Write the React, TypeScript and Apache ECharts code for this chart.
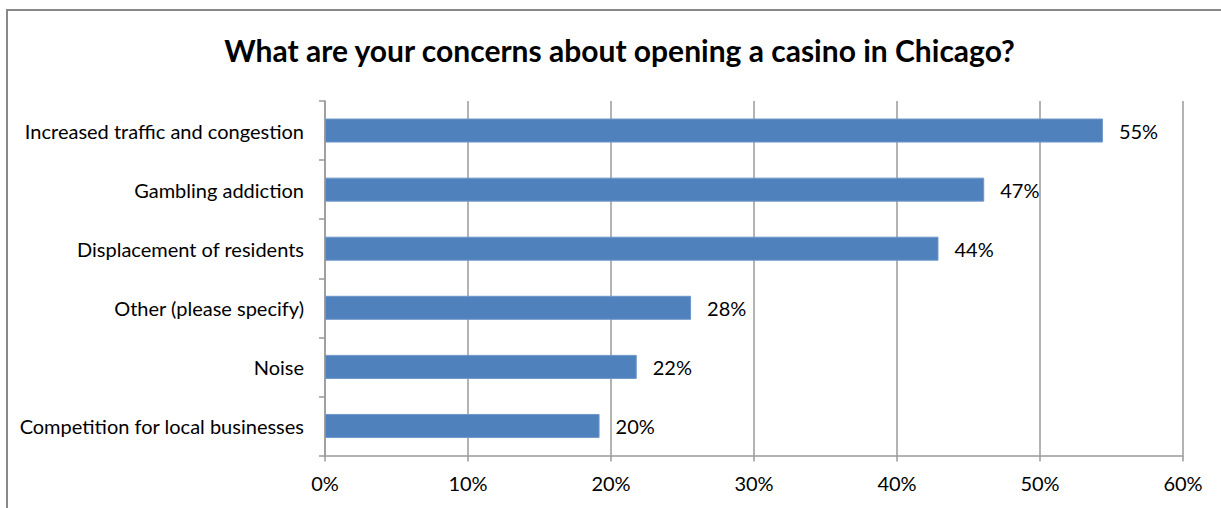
import React, { useEffect, useRef } from "react";
import * as echarts from "echarts";

const titleText = "What are your concerns about opening a casino in Chicago?";
const categories = [
  "Increased traffic and congestion",
  "Gambling addiction",
  "Displacement of residents",
  "Other (please specify)",
  "Noise",
  "Competition for local businesses",
];
const values = [54.4, 46.1, 42.9, 25.6, 21.8, 19.2];
const valueLabels = ["55%", "47%", "44%", "28%", "22%", "20%"];
const xMin = 0;
const xMax = 60;
const xInterval = 10;

const FONT = "Lato";

export default function App() {
  const ref = useRef<HTMLDivElement>(null);
  useEffect(() => {
    if (!ref.current) return;
    const chart = echarts.init(ref.current, undefined, { renderer: "svg" });
    chart.setOption({
      animation: false,
      backgroundColor: "#ffffff",
      textStyle: { fontFamily: FONT },
      graphic: [
        {
          type: "rect",
          shape: { x: 7, y: 10, width: 1400, height: 700 },
          style: { fill: "none", stroke: "#888888", lineWidth: 2 },
          silent: true,
          z: 100,
        },
        {
          type: "text",
          x: 619.5,
          y: 50,
          style: {
            text: titleText,
            font: `bold 30px ${FONT}`,
            fill: "#000000",
            align: "center",
            verticalAlign: "middle",
          },
        },
      ],
      grid: { left: 325, right: 38, top: 101, bottom: 52.5, containLabel: false },
      xAxis: {
        type: "value",
        min: xMin,
        max: xMax,
        interval: xInterval,
        axisLine: { show: true, lineStyle: { color: "#9a9a9a", width: 1.5 } },
        axisTick: { show: true, length: 6, lineStyle: { color: "#9a9a9a", width: 1.5 } },
        splitLine: { show: true, lineStyle: { color: "#9a9a9a", width: 1.5 } },
        axisLabel: {
          formatter: "{value}%",
          color: "#000000",
          fontSize: 20,
          fontFamily: FONT,
          margin: 17,
        },
      },
      yAxis: {
        type: "category",
        data: categories,
        inverse: true,
        axisLine: { show: true, lineStyle: { color: "#9a9a9a", width: 1.5 } },
        axisTick: { show: true, length: 6, lineStyle: { color: "#9a9a9a", width: 1.5 } },
        axisLabel: {
          color: "#000000",
          fontSize: 20,
          fontFamily: FONT,
          margin: 21,
        },
      },
      series: [
        {
          type: "bar",
          data: values.map((v, i) => ({ value: v, label: { formatter: valueLabels[i] } })),
          barWidth: 24,
          itemStyle: { color: "#4F81BD", borderColor: "#6E96C9", borderWidth: 1 },
          label: {
            show: true,
            position: "right",
            distance: 16,
            color: "#000000",
            fontSize: 20,
            fontFamily: FONT,
          },
        },
      ],
    });
    return () => chart.dispose();
  }, []);
  return (
    <div
      ref={ref}
      style={{ position: "absolute", left: 0, top: 0, width: 1221, height: 508 }}
    />
  );
}
